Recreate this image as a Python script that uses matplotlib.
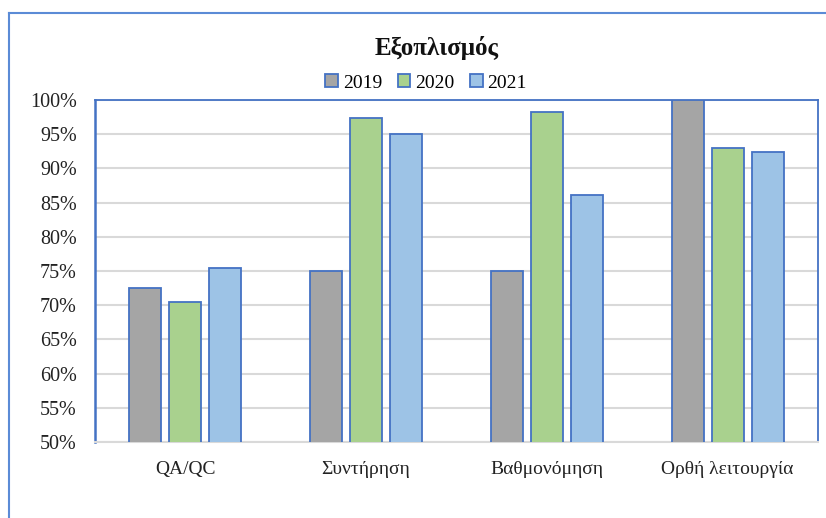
import numpy as np
import matplotlib
matplotlib.use('Agg')
import matplotlib.pyplot as plt
from matplotlib.lines import Line2D
from matplotlib.ticker import FuncFormatter

categories = ['QA/QC', 'Συντήρηση', 'Βαθμονόμηση', 'Ορθή λειτουργία']
years = ['2019', '2020', '2021']
values_2019 = [72.5, 75.0, 75.0, 100.0]
values_2020 = [70.5, 97.4, 98.3, 93.0]
values_2021 = [75.4, 95.0, 86.1, 92.4]

series = [values_2019, values_2020, values_2021]
colors = ['#A5A5A5', '#A9D18E', '#9DC3E6']
edge = '#4472C4'

plt.rcParams['font.family'] = ['Liberation Serif', 'DejaVu Serif']

fig = plt.figure(figsize=(8.26, 5.18), dpi=100)
ax = fig.add_axes([95 / 826, 1 - 442 / 518, (818 - 95) / 826, (442 - 100) / 518])

x = np.arange(len(categories))
bar_w = 0.177
step = 0.221
for i, (vals, col, yr) in enumerate(zip(series, colors, years)):
    ax.bar(x + (i - 1) * step, vals, width=bar_w, color=col,
           edgecolor=edge, linewidth=1.3, label=yr, zorder=3)

ax.set_xlim(-0.5, len(categories) - 0.5)
ax.set_ylim(50, 100)
ax.set_yticks(np.arange(50, 101, 5))
ax.yaxis.set_major_formatter(FuncFormatter(lambda v, _: f'{v:.0f}%'))
ax.set_xticks(x)
ax.set_xticklabels(categories)
ax.tick_params(axis='y', length=0, pad=13, labelsize=14.5, colors='#222222')
ax.tick_params(axis='x', length=0, pad=14, labelsize=14, colors='#222222')
ax.grid(axis='y', color='#D9D9D9', linewidth=1.5, zorder=0)

for side in ['top', 'left', 'right']:
    ax.spines[side].set_color(edge)
    ax.spines[side].set_linewidth(1.3)
ax.spines['left'].set_linewidth(1.8)
ax.spines['bottom'].set_color('#D9D9D9')
ax.spines['bottom'].set_linewidth(1.5)

fig.text(437 / 826, 1 - 48 / 518, 'Εξοπλισμός', ha='center', va='center',
         fontsize=18, fontweight='bold', color='#111111')

handles, labels = ax.get_legend_handles_labels()
fig.legend(handles, labels, loc='center', bbox_to_anchor=(426 / 826, 1 - 83 / 518),
           ncol=3, frameon=False, fontsize=14, handlelength=0.65, handleheight=0.65,
           handletextpad=0.25, columnspacing=0.8)

# outer chart frame (cropped on right and bottom)
fig.add_artist(Line2D([9 / 826, 9 / 826], [0, 1 - 13 / 518],
                      transform=fig.transFigure, color='#5B8BD6', linewidth=1.5))
fig.add_artist(Line2D([9 / 826, 1], [1 - 13 / 518, 1 - 13 / 518],
                      transform=fig.transFigure, color='#5B8BD6', linewidth=1.5))

fig.savefig('out.png', dpi=100)
